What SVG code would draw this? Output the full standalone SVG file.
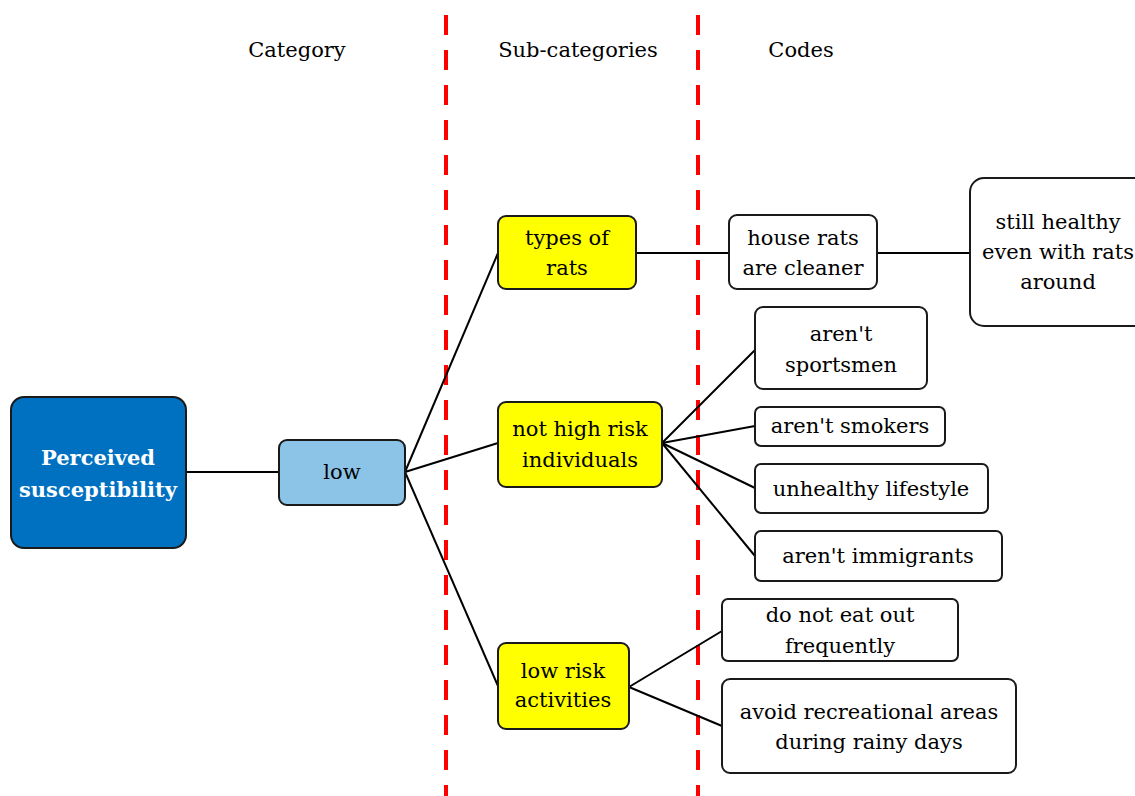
<svg xmlns="http://www.w3.org/2000/svg" width="1135" height="796" viewBox="0 0 1135 796">
<style>
.t{font-family:"DejaVu Serif","Liberation Serif",serif;font-size:21px;fill:#000;text-anchor:middle}
.h{font-family:"DejaVu Serif","Liberation Serif",serif;font-size:21px;fill:#000;text-anchor:middle}
.w{font-family:"DejaVu Serif","Liberation Serif",serif;font-size:21px;font-weight:bold;fill:#fff;text-anchor:middle}
.box{stroke:#1a1a1a;stroke-width:2}
.code{fill:#fff}
.sub{fill:#ffff00}
.c{stroke:#000;stroke-width:2;fill:none}
.dash{stroke:#ff0000;stroke-width:4;stroke-dasharray:20 15;fill:none}
</style>
<rect width="1135" height="796" fill="#fff"/>
<g id="dividers">
<line class="dash" x1="446" y1="15" x2="446" y2="796"/>
<line class="dash" x1="698" y1="15" x2="698" y2="796"/>
</g>
<g id="headers">
<text class="h" x="297" y="57">Category</text>
<text class="h" x="578" y="57">Sub-categories</text>
<text class="h" x="801" y="57">Codes</text>
</g>
<g id="connectors">
<line class="c" x1="186" y1="472" x2="279" y2="472"/>
<line class="c" x1="405" y1="472" x2="498" y2="253"/>
<line class="c" x1="405" y1="472" x2="498" y2="443"/>
<line class="c" x1="405" y1="472" x2="498" y2="686"/>
<line class="c" x1="636" y1="253" x2="729" y2="253"/>
<line class="c" x1="877" y1="253" x2="970" y2="253"/>
<line class="c" x1="662" y1="443" x2="755" y2="350"/>
<line class="c" x1="662" y1="443" x2="755" y2="426"/>
<line class="c" x1="662" y1="443" x2="755" y2="488"/>
<line class="c" x1="662" y1="443" x2="755" y2="556"/>
<line class="c" x1="629" y1="687" x2="722" y2="631"/>
<line class="c" x1="629" y1="687" x2="722" y2="726"/>
</g>
<g id="perceived">
<rect class="box" x="11" y="397" width="175" height="151" rx="13" fill="#0070c0"/>
<text class="w" x="98" y="465">Perceived</text>
<text class="w" x="98" y="497">susceptibility</text>
</g>
<g id="low">
<rect class="box" x="279" y="440" width="126" height="65" rx="8" fill="#8cc4e8"/>
<text class="t" x="342" y="479">low</text>
</g>
<g id="types">
<rect class="box sub" x="498" y="216" width="138" height="73" rx="8"/>
<text class="t" x="567" y="245">types of</text>
<text class="t" x="567" y="275">rats</text>
</g>
<g id="nothigh">
<rect class="box sub" x="498" y="402" width="164" height="85" rx="8"/>
<text class="t" x="580" y="436">not high risk</text>
<text class="t" x="580" y="467">individuals</text>
</g>
<g id="lowrisk">
<rect class="box sub" x="498" y="643" width="131" height="86" rx="8"/>
<text class="t" x="563" y="678">low risk</text>
<text class="t" x="563" y="707">activities</text>
</g>
<g id="houserats">
<rect class="box code" x="729" y="215" width="148" height="74" rx="8"/>
<text class="t" x="803" y="245">house rats</text>
<text class="t" x="803" y="275">are cleaner</text>
</g>
<g id="stillhealthy">
<rect class="box code" x="970" y="178" width="180" height="148" rx="14"/>
<text class="t" x="1058" y="229">still healthy</text>
<text class="t" x="1058" y="259">even with rats</text>
<text class="t" x="1058" y="289">around</text>
</g>
<g id="sportsmen">
<rect class="box code" x="755" y="307" width="172" height="82" rx="8"/>
<text class="t" x="841" y="341">aren't</text>
<text class="t" x="841" y="372">sportsmen</text>
</g>
<g id="smokers">
<rect class="box code" x="755" y="407" width="190" height="39" rx="6"/>
<text class="t" x="850" y="433">aren't smokers</text>
</g>
<g id="unhealthy">
<rect class="box code" x="755" y="464" width="233" height="49" rx="6"/>
<text class="t" x="871" y="496">unhealthy lifestyle</text>
</g>
<g id="immigrants">
<rect class="box code" x="755" y="531" width="247" height="50" rx="6"/>
<text class="t" x="878" y="563">aren't immigrants</text>
</g>
<g id="eatout">
<rect class="box code" x="722" y="599" width="236" height="62" rx="6"/>
<text class="t" x="840" y="622">do not eat out</text>
<text class="t" x="840" y="653">frequently</text>
</g>
<g id="avoid">
<rect class="box code" x="722" y="679" width="294" height="94" rx="8"/>
<text class="t" x="869" y="719">avoid recreational areas</text>
<text class="t" x="869" y="749">during rainy days</text>
</g>
</svg>
